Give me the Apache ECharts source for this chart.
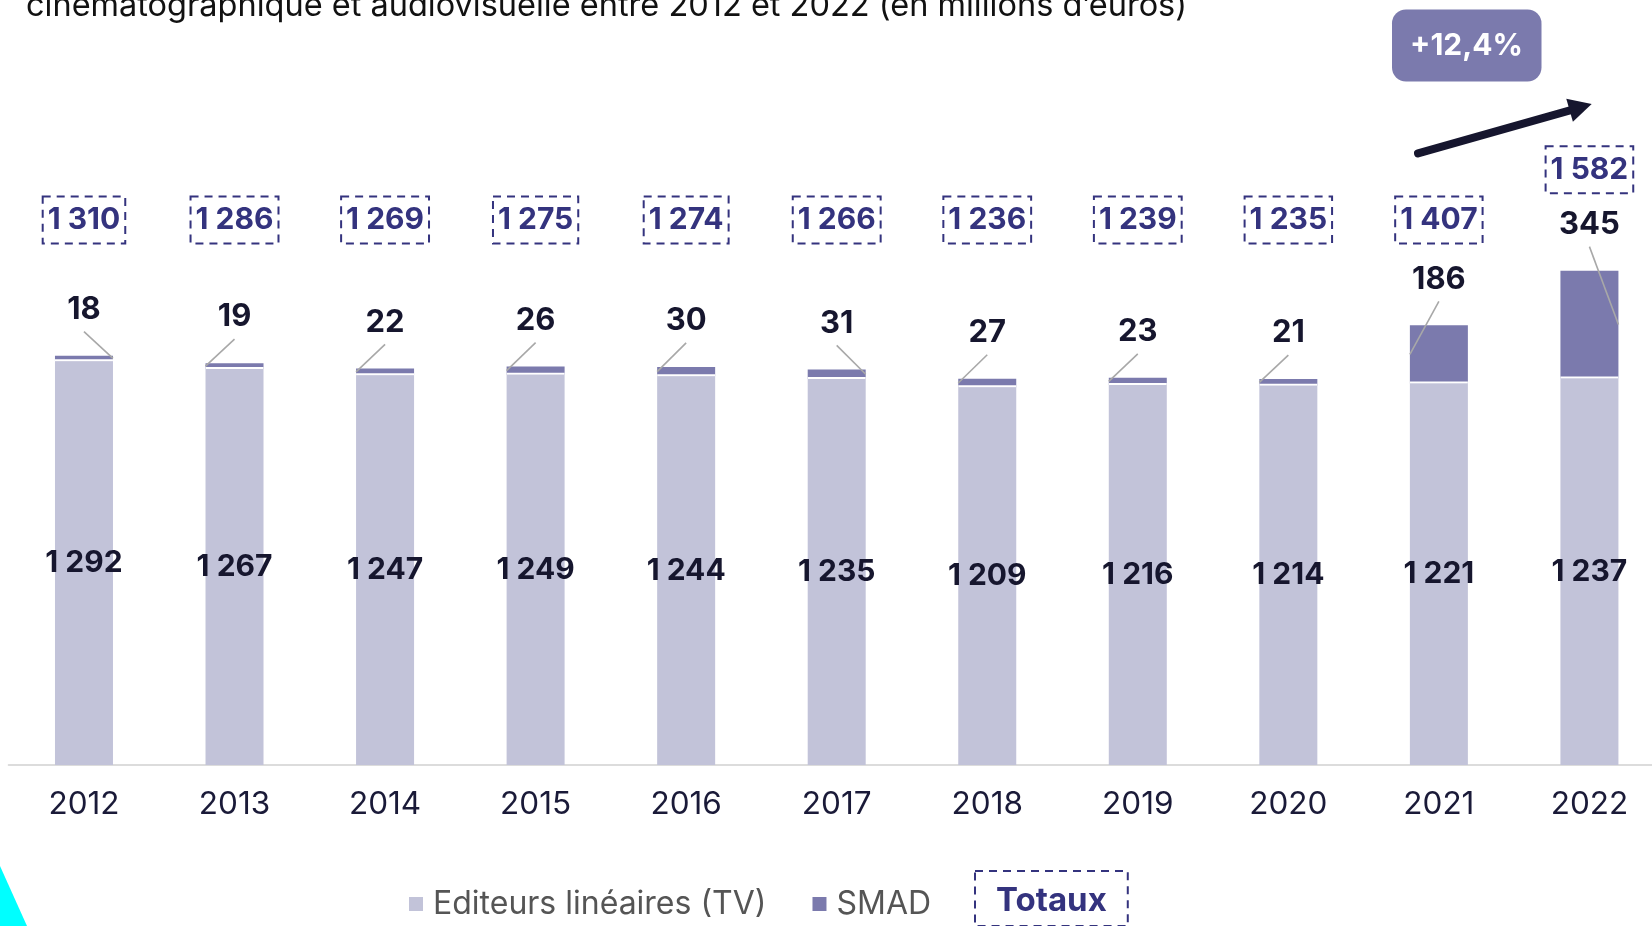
<!DOCTYPE html>
<html><head><meta charset="utf-8">
<script src="https://cdn.jsdelivr.net/npm/echarts@6/dist/echarts.min.js"></script>
<style>html,body{margin:0;padding:0;background:#fff}#c{width:1652px;height:926px}</style>
</head><body><div id="c"></div>
<script>
// ---- data ----
const years = ['2012','2013','2014','2015','2016','2017','2018','2019','2020','2021','2022'];
const tv = [1292,1267,1247,1249,1244,1235,1209,1216,1214,1221,1237];
const smad = [18,19,22,26,30,31,27,23,21,186,345];
const totals = [1310,1286,1269,1275,1274,1266,1236,1239,1235,1407,1582];
const seriesNames = ['Editeurs linéaires (TV)','SMAD','Totaux'];
const growthText = '+12,4%';
const titleText = 'cinématographique et audiovisuelle entre 2012 et 2022 (en millions d’euros)';

// ---- style ----
const FONT = 'Inter';
const C_TV = '#c2c3d9', C_SMAD = '#7b7aad', C_TOT = '#34337e', C_DARK = '#16162e';
const lineSide = [1,-1,-1,-1,-1,1,-1,-1,-1,-1,1];
const BAR_W = 58;
const fmt = n => String(n).replace(/\B(?=(\d{3})+(?!\d))/g, ' ');

const chart = echarts.init(document.getElementById('c'), null, {renderer:'canvas'});
chart.setOption({
  animation:false,
  textStyle:{fontFamily:FONT},
  grid:{left:8.7, width:1656, top:140, bottom:161, containLabel:false, outerBoundsMode:'none'},
  xAxis:{type:'category', data:years,
    axisLine:{lineStyle:{color:'#dcdcdc', width:2}},
    axisTick:{show:false},
    axisLabel:{fontSize:31.5, color:'#1a1a38', fontFamily:FONT, margin:24}},
  yAxis:{type:'value', min:0, max:2000, show:false, splitLine:{show:false}},
  legend:[
    {data:[seriesNames[0], seriesNames[1]], left:409, top:888, padding:0, itemGap:46,
     itemWidth:14, itemHeight:14, icon:'rect', selectedMode:false,
     textStyle:{fontSize:32, color:'#555', fontFamily:FONT, padding:[0,0,0,5]}},
    {data:[{name:seriesNames[2], icon:'none'}], left:956, top:870, padding:0,
     itemWidth:14, itemHeight:14, selectedMode:false,
     formatter:n=>'{t|'+n+'}',
     textStyle:{rich:{t:{fontSize:33, fontWeight:'bold', color:C_TOT, fontFamily:FONT,
       borderColor:C_TOT, borderWidth:2, borderType:[8,6], padding:[14,21,8,21], lineHeight:38}}}}
  ],
  series:[
    {name:seriesNames[0], type:'bar', stack:'s', data:tv, barWidth:BAR_W,
     itemStyle:{color:C_TV},
     label:{show:true, position:'inside', formatter:p=>fmt(p.value), fontSize:30, fontWeight:'bold', color:C_DARK, fontFamily:FONT}},
    {name:seriesNames[1], type:'bar', stack:'s', data:smad, barWidth:BAR_W,
     itemStyle:{color:C_SMAD}},
    {name:'smadLabels', type:'custom', silent:true, z:5,
     data:smad.map((v,i)=>[i, tv[i], v]),
     renderItem:(params, api)=>{
       const i = api.value(0), base = api.value(1), v = api.value(2);
       const top = api.coord([i, base+v]), bot = api.coord([i, base]);
       const cx = top[0], half = BAR_W/2;
       const ly = top[1]-46;
       return {type:'group', children:[
         {type:'line', shape:{x1:cx-half, y1:bot[1]-1, x2:cx+half, y2:bot[1]-1}, style:{stroke:'#fff', lineWidth:2}},
         {type:'line', shape:{x1:cx, y1:ly+22, x2:cx+lineSide[i]*half, y2:(top[1]+bot[1])/2}, style:{stroke:'#a8a8a8', lineWidth:1.6}},
         {type:'text', x:cx, y:ly, style:{text:String(v), align:'center', verticalAlign:'middle',
           font:'bold 31px '+FONT, fill:C_DARK}}
       ]};
     }},
    {name:seriesNames[2], type:'custom', silent:true, z:5,
     data:totals.map((t,i)=>[i,t]),
     renderItem:(params, api)=>{
       const i = api.value(0), t = api.value(1);
       const p = api.coord([i, t]);
       const y = Math.min(220, p[1]-101);
       return {type:'text', x:p[0], y:y, style:{text:fmt(t), align:'center', verticalAlign:'middle',
         font:'bold 30px '+FONT, fill:C_TOT, borderColor:C_TOT, borderWidth:2, borderDash:[8,6],
         padding:[6,5,5,5], lineHeight:36}};
     }}
  ],
  graphic:[
    {type:'text', x:26, y:6, style:{text:titleText, font:'32.5px '+FONT, fill:'#111', verticalAlign:'middle'}},
    {type:'rect', shape:{x:1392, y:9.5, width:149.5, height:72, r:14}, style:{fill:C_SMAD}},
    {type:'text', x:1466.5, y:46, style:{text:growthText, font:'bold 30px '+FONT, fill:'#fff', align:'center', verticalAlign:'middle'}},
    {type:'line', shape:{x1:1418, y1:153.3, x2:1570, y2:110.3}, style:{stroke:C_DARK, lineWidth:8, lineCap:'round'}},
    {type:'polygon', shape:{points:[[1591.7,104],[1572.9,121.8],[1566.3,98.8]]}, style:{fill:C_DARK}},
    {type:'polygon', shape:{points:[[0,866],[27,926],[0,926]]}, style:{fill:'#00ffff'}}
  ]
});
</script></body></html>
